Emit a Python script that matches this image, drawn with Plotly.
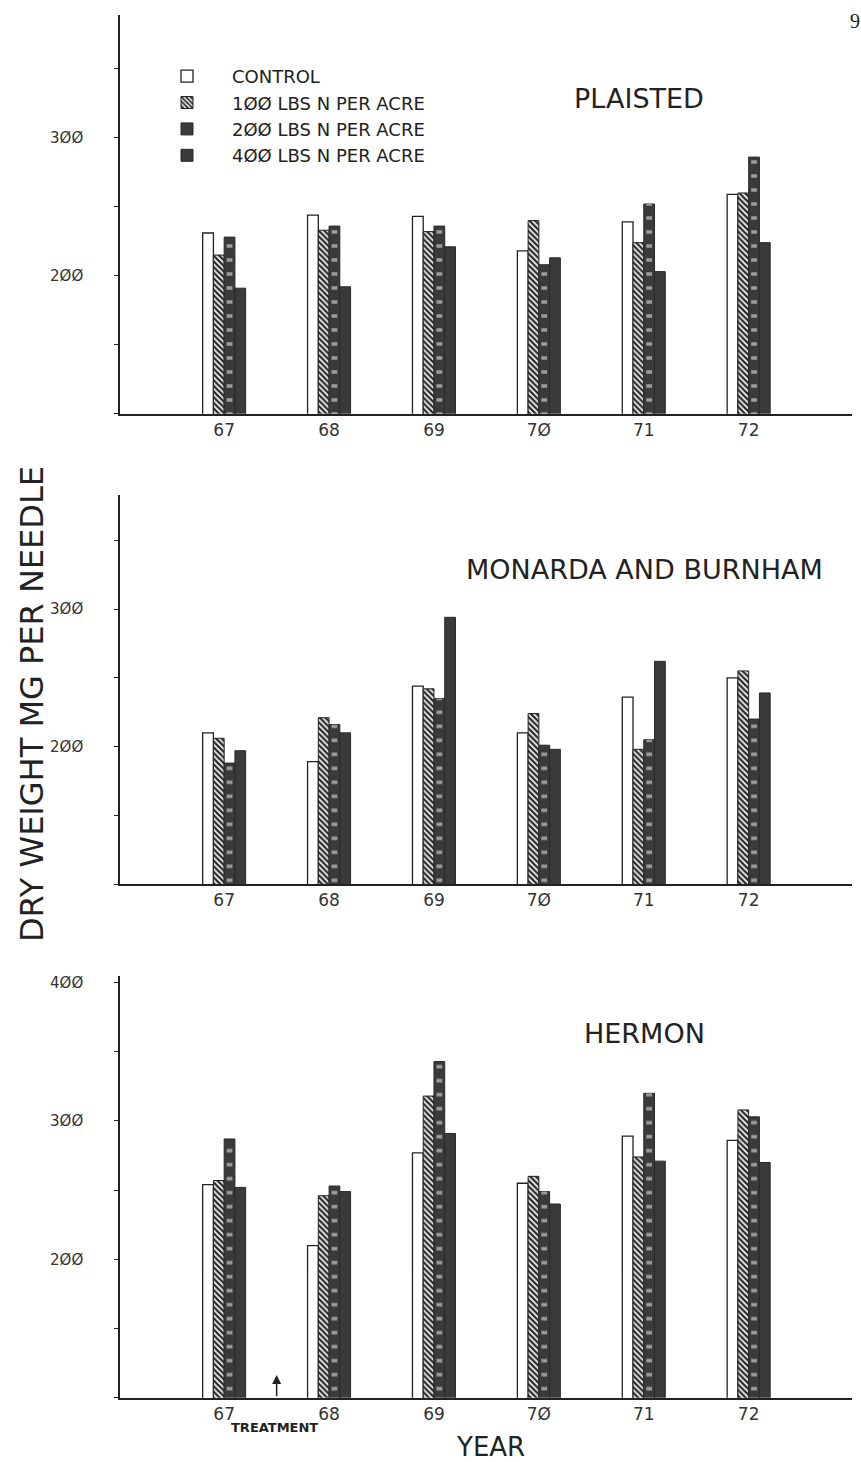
import numpy as np
import plotly.graph_objects as go

# ---------------- data ----------------
YEARS = ["67", "68", "69", "7Ø", "71", "72"]
TREATMENTS = ["CONTROL", "1ØØ LBS N PER ACRE", "2ØØ LBS N PER ACRE", "4ØØ LBS N PER ACRE"]
SITES = ["PLAISTED", "MONARDA AND BURNHAM", "HERMON"]

plaisted_control = [231, 244, 243, 218, 239, 259]
plaisted_100 = [215, 233, 232, 240, 224, 260]
plaisted_200 = [228, 236, 236, 208, 252, 286]
plaisted_400 = [191, 192, 221, 213, 203, 224]

monarda_control = [210, 189, 244, 210, 236, 250]
monarda_100 = [206, 221, 242, 224, 198, 255]
monarda_200 = [188, 216, 235, 201, 205, 220]
monarda_400 = [197, 210, 294, 198, 262, 239]

hermon_control = [254, 210, 277, 255, 289, 286]
hermon_100 = [257, 246, 318, 260, 274, 308]
hermon_200 = [287, 253, 343, 249, 320, 303]
hermon_400 = [252, 249, 291, 240, 271, 270]

PANEL_DATA = [
    [plaisted_control, plaisted_100, plaisted_200, plaisted_400],
    [monarda_control, monarda_100, monarda_200, monarda_400],
    [hermon_control, hermon_100, hermon_200, hermon_400],
]
Y_TOPS = [389, 382.7, 405]
Y_TICKS = [100, 150, 200, 250, 300, 350, 400]
Y_TICK_TEXT = {200: "2ØØ", 300: "3ØØ", 400: "4ØØ"}

# ---------------- style ----------------
FONT = "DejaVu Sans"
INK = "#222222"
DARK = "#3a3a3a"
W = 861
H = 1462
X_DOMAIN = [120 / W, 852 / W]
Y_DOMAINS = [
    [1 - 412.3 / H, 1 - 13 / H],
    [1 - 883.3 / H, 1 - 494 / H],
    [1 - 1397.7 / H, 1 - 975 / H],
]
BAR_W = 0.1025
DASH_W = 0.055

xpos = np.arange(len(YEARS))

fig = go.Figure()

for p, series in enumerate(PANEL_DATA):
    xa = "x" if p == 0 else f"x{p+1}"
    ya = "y" if p == 0 else f"y{p+1}"
    show = p == 0
    for i, vals in enumerate(series):
        off = -2 * BAR_W + i * BAR_W
        if i == 0:
            marker = dict(color="white", line=dict(color=INK, width=1.3))
        elif i == 1:
            marker = dict(color="white",
                          pattern=dict(shape="\\", fgcolor="#2a2a2a", bgcolor="#f4f4f4",
                                       size=4, solidity=0.55, fillmode="replace"),
                          line=dict(color=INK, width=1))
        else:
            marker = dict(color=DARK, line=dict(color="#2a2a2a", width=1))
        fig.add_trace(go.Bar(
            x=xpos, y=vals, offset=off, width=BAR_W, name=TREATMENTS[i],
            marker=marker, xaxis=xa, yaxis=ya, showlegend=show, legendgroup=TREATMENTS[i],
        ))
        if i == 2:
            # white dash marks running up the centre of the 200 lb bars
            fig.add_trace(go.Bar(
                x=xpos, y=vals, offset=off + (BAR_W - DASH_W) / 2, width=DASH_W,
                marker=dict(color="rgba(0,0,0,0)",
                            pattern=dict(shape="-", fgcolor="white", bgcolor="rgba(0,0,0,0)",
                                         size=14, solidity=0.25, fillmode="overlay"),
                            line=dict(width=0)),
                xaxis=xa, yaxis=ya, showlegend=False, hoverinfo="skip",
                legendgroup=TREATMENTS[i],
            ))

layout = dict(
    width=W, height=H,
    margin=dict(l=0, r=0, t=0, b=0),
    paper_bgcolor="white", plot_bgcolor="white",
    barmode="overlay",
    font=dict(family=FONT, color=INK),
    legend=dict(x=142 / W, y=1 - 56 / H, xanchor="left", yanchor="top",
                bgcolor="rgba(0,0,0,0)", font=dict(size=18, family=FONT, color=INK),
                itemwidth=80, tracegroupgap=0, traceorder="normal"),
)

for p in range(3):
    xk = "xaxis" if p == 0 else f"xaxis{p+1}"
    yk = "yaxis" if p == 0 else f"yaxis{p+1}"
    ya = "y" if p == 0 else f"y{p+1}"
    xa = "x" if p == 0 else f"x{p+1}"
    layout[xk] = dict(
        domain=X_DOMAIN, anchor=ya, range=[-0.993, 5.985],
        tickmode="array", tickvals=list(xpos), ticktext=YEARS,
        showline=True, linecolor=INK, linewidth=1.5, ticks="",
        showgrid=False, zeroline=False, fixedrange=True,
        tickfont=dict(size=17, family=FONT, color="#333333"),
    )
    tv = [t for t in Y_TICKS if t <= Y_TOPS[p]]
    layout[yk] = dict(
        domain=Y_DOMAINS[p], anchor=xa, range=[100, Y_TOPS[p]],
        tickmode="array", tickvals=tv, ticktext=[Y_TICK_TEXT.get(t, "") for t in tv],
        showline=True, linecolor=INK, linewidth=1.5,
        ticks="outside", ticklen=4, tickwidth=1.3, tickcolor=INK,
        ticklabelstandoff=28,
        showgrid=False, zeroline=False, fixedrange=True,
        tickfont=dict(size=15, family=FONT, color="#333333"),
    )

fig.update_layout(**layout)


def label(text, x, y, size, **kw):
    d = dict(text=text, x=x / W, y=1 - y / H, xref="paper", yref="paper",
             xanchor="center", yanchor="middle", showarrow=False,
             font=dict(size=size, family=kw.pop("family", FONT), color=INK))
    d.update(kw)
    return d


annotations = [
    label(SITES[0], 638.5, 97, 27),
    label(SITES[1], 644, 568, 27),
    label(SITES[2], 644, 1033, 27),
    label("DRY WEIGHT MG PER NEEDLE", 32, 703, 32, textangle=-90),
    label("YEAR", 490, 1447, 26),
    label("<b>TREATMENT</b>", 274, 1427, 13),
    dict(text="", x=0.5, y=116.5, ax=0.5, ay=100, xref="x3", yref="y3", axref="x3", ayref="y3",
         showarrow=True, arrowhead=2, arrowsize=1.2, arrowwidth=1.5, arrowcolor=INK),
    label("9", 848, 19, 20, family="Liberation Serif", xanchor="left"),
]
fig.update_layout(annotations=annotations)

fig.write_html("out.html")
